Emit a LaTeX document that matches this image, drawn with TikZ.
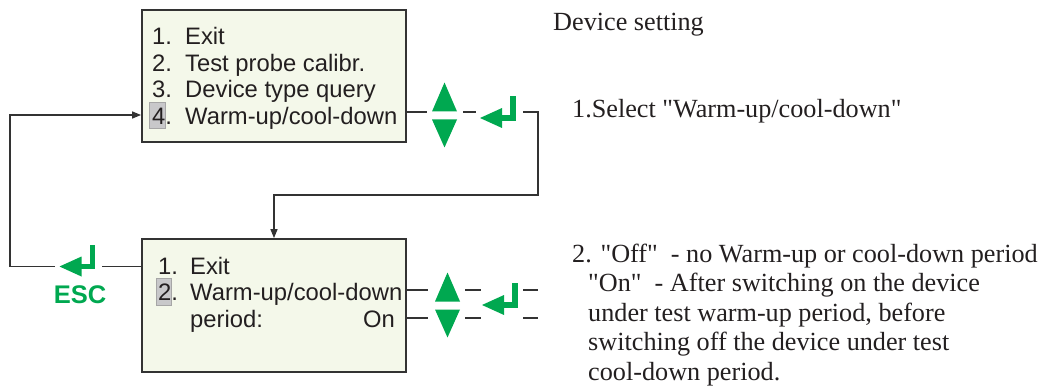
\documentclass[tikz,border=0pt]{standalone}
\usepackage{fontspec}
\setmainfont{Liberation Serif}[Ligatures=TeXOff]
\newfontfamily\sansface{Liberation Sans}
\usetikzlibrary{arrows.meta}
\definecolor{keygreen}{RGB}{0,168,80}
\definecolor{ink}{RGB}{35,31,32}
\definecolor{wirec}{RGB}{51,51,51}
\definecolor{screenbg}{RGB}{244,248,234}
\definecolor{selgray}{RGB}{200,200,202}
\newcommand\menufont{\sansface\fontsize{23.8}{28}\selectfont}
\newcommand\notefont{\fontsize{26.2}{30}\selectfont}
\newcommand\escfont{\sansface\bfseries\fontsize{25.5}{30}\selectfont}
\tikzset{
  screen/.style={draw=wirec, line width=1.8pt, fill=screenbg, inner sep=0},
  menu/.style={font=\menufont, text=ink, anchor=base west, inner sep=0},
  note/.style={font=\notefont, text=ink, anchor=base west, inner sep=0},
  wire/.style={draw=wirec, line width=1.3pt},
  sel/.style={fill=selgray, draw=gray!70, line width=0.6pt},
  retkey/.pic={
    \fill[keygreen] (-33,0) -- (-11,-10) -- (-11,10) -- cycle;
    \draw[keygreen, line width=5.5pt] (-13,0) -- (0,0) -- (0,-22);
  },
  updown/.pic={
    \fill[keygreen] (-12.5,-4) -- (12.5,-4) -- (0,-33) -- cycle;
    \fill[keygreen] (-12.5,4) -- (12.5,4) -- (0,32) -- cycle;
  }
}

\begin{document}
\begin{tikzpicture}[x=1pt, y=-1pt, >={Triangle[length=9pt,width=7pt]}]
  \useasboundingbox (0,0) rectangle (1048,387);
  % screens
  \node[screen, minimum width=264pt, minimum height=132pt] (menu) at (274,76) {};
  \node[screen, minimum width=264pt, minimum height=133pt] (warm) at (274,305.5) {};
  % cursor marks
  \draw[sel] (149,102) rectangle (165,128);
  \draw[sel] (156,278) rectangle (171,305);
  % main menu
  \node[menu] (m1) at (152,45) {\makebox[33pt][l]{1.}Exit};
  \node[menu] (m2) at (152,71.5) {\makebox[33pt][l]{2.}Test probe calibr.};
  \node[menu] (m3) at (152,98) {\makebox[33pt][l]{3.}Device type query};
  \node[menu] (m4) at (152,125) {\makebox[33pt][l]{4.}Warm-up/cool-down};
  % warm-up screen
  \node[menu] (w1) at (158,274) {\makebox[32pt][l]{1.}Exit};
  \node[menu] (w2) at (158,300.5) {\makebox[32pt][l]{2.}Warm-up/cool-down};
  \node[menu] (w3) at (190,327) {period:};
  \node[menu, anchor=base east] (w4) at (395,327) {On};
  % keys
  \pic (ud1) at (444.5,115.5) {updown};
  \pic (ret1) at (513,118) {retkey};
  \pic (ud2) at (447.5,305.5) {updown};
  \pic (ret2) at (515,305) {retkey};
  \pic (esc1) at (92.5,266.5) {retkey};
  \node[anchor=base, font=\escfont, text=keygreen] (esc) at (80,303) {ESC};
  % connectors
  \coordinate (a1) at (427,112);
  \coordinate (a2) at (463,112);
  \coordinate (a3) at (476,112);
  \coordinate (a4) at (523,112);
  \coordinate (turn) at (538,195);
  \draw[wire] (menu.east |- a1) -- (a1);
  \draw[wire] (a2) -- (a3);
  \draw[wire, ->] (a4) -| (turn) -| (warm.north);
  \foreach \y in {290,318} {
    \draw[wire] (warm.east |- 0,\y) -- (428,\y);
    \draw[wire] (465,\y) -- (481,\y);
    \draw[wire] (523,\y) -- (538,\y);
  }
  \coordinate (b1) at (102,266.5);
  \coordinate (b2) at (55,266.5);
  \coordinate (b3) at (10,115);
  \draw[wire] (warm.west |- b1) -- (b1);
  \draw[wire, ->] (b2) -| (b3) -- (menu.west |- b3);
  % notes
  \node[note] (title) at (553,31) {Device setting};
  \node[note] (step1) at (572,118) {1.Select "Warm-up/cool-down"};
  \node[note] (step2a) at (572,262) {2. "Off"\ \ - no Warm-up or cool-down period};
  \node[note] (step2b) at (588,291.5) {"On"\ \ - After switching on the device};
  \node[note] (step2c) at (588,321) {under test warm-up period, before};
  \node[note] (step2d) at (588,350.5) {switching off the device under test};
  \node[note] (step2e) at (588,380) {cool-down period.};
\end{tikzpicture}
\end{document}
